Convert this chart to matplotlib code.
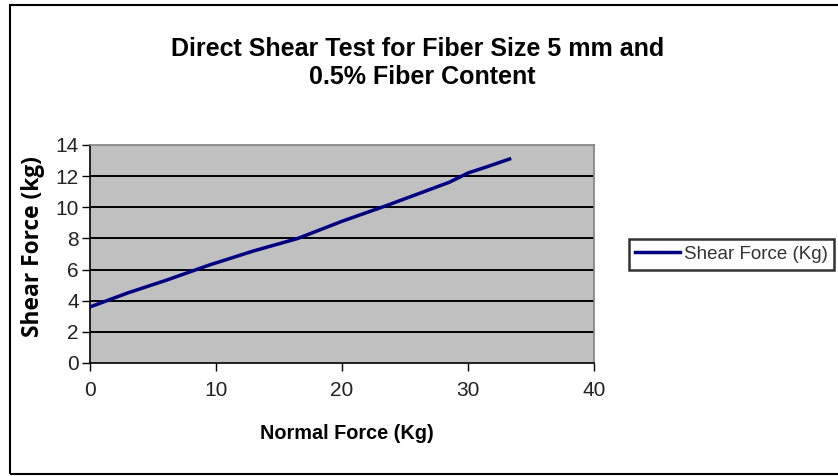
import numpy as np
import matplotlib.pyplot as plt
from matplotlib.patches import Rectangle

# normal force (kg) vs shear force (kg)
normal_force = [0, 3, 6, 9.5, 13, 16.5, 20, 23.5, 26.5, 28.5, 30, 31.5, 33.3]
shear_force = [3.6, 4.5, 5.3, 6.3, 7.2, 8.0, 9.1, 10.1, 11.0, 11.6, 12.2, 12.6, 13.1]

x_ticks = [0, 10, 20, 30, 40]
y_ticks = [0, 2, 4, 6, 8, 10, 12, 14]

plt.rcParams['font.family'] = ['Liberation Sans', 'DejaVu Sans']

fig = plt.figure(figsize=(8.38, 4.76), dpi=100)
ax = fig.add_axes([0.1074, 0.2374, 0.6014, 0.458])

ax.set_facecolor('#c0c0c0')
for y in y_ticks[1:-1]:
    ax.axhline(y, color='black', lw=1.4, zorder=1)

ax.plot(normal_force, shear_force, color='#000080', lw=2.5, label='Shear Force (Kg)', zorder=3)

ax.set_xlim(0, 40)
ax.set_ylim(0, 14)
ax.set_xticks(x_ticks)
ax.set_yticks(y_ticks)
ax.tick_params(axis='both', labelsize=15, direction='out', length=6, width=1, colors='black')
ax.tick_params(axis='x', pad=7, labelcolor='#222222')
ax.tick_params(axis='y', pad=2, labelcolor='#222222')

for side in ['top', 'right']:
    ax.spines[side].set_color('#808080')
    ax.spines[side].set_linewidth(1.2)
for side in ['left', 'bottom']:
    ax.spines[side].set_color('black')
    ax.spines[side].set_linewidth(1.2)

fig.text(0.498, 0.897, 'Direct Shear Test for Fiber Size 5 mm and', ha='center', va='center',
         fontsize=18, fontweight='bold')
fig.text(0.504, 0.838, '0.5% Fiber Content', ha='center', va='center',
         fontsize=18, fontweight='bold')

fig.text(0.414, 0.09, 'Normal Force (Kg)', ha='center', va='center', fontsize=14.3, fontweight='bold')
fig.text(0.039, 0.481, 'Shear Force (kg)', ha='center', va='center', rotation=90,
         fontsize=16.4, fontweight='bold', family=['Open Sans', 'DejaVu Sans'])

leg = fig.legend(loc='center', bbox_to_anchor=(0.873, 0.4655), fontsize=13.5, frameon=True,
                 fancybox=False, handlelength=2.4, handletextpad=0.2, borderpad=0.35,
                 borderaxespad=0, labelcolor='#333333')
leg.get_frame().set_edgecolor('black')
leg.get_frame().set_linewidth(1.8)

# outer border of the chart area
fig.patches.append(Rectangle((0.012, 0.004), 1.1, 0.985, transform=fig.transFigure,
                             fill=False, edgecolor='black', lw=1.5))

fig.savefig('out.png', dpi=100)
